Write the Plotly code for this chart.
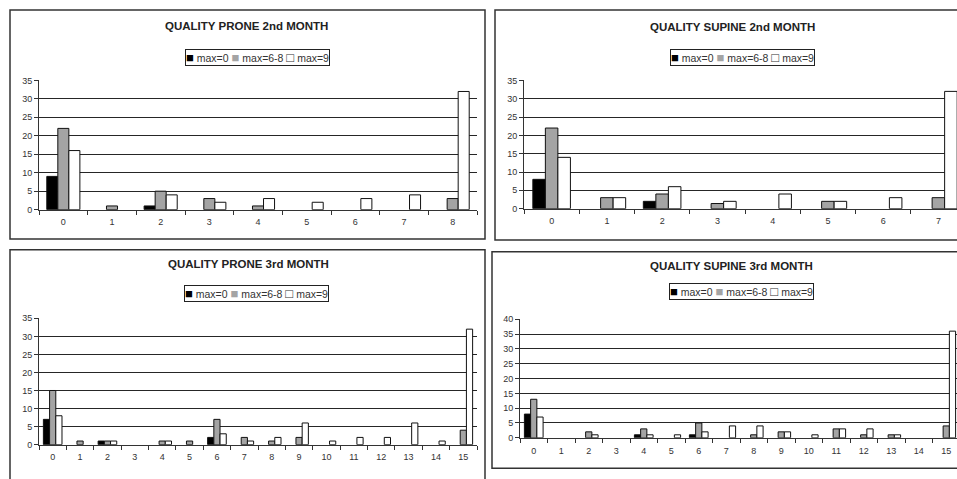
import plotly.graph_objects as go

# ---------------- data ----------------
series_names = ["max=0", "max=6-8", "max=9"]

cats_prone2 = [str(i) for i in range(9)]
prone2_max0 = [9, 0, 1, 0, 0, 0, 0, 0, 0]
prone2_max68 = [22, 1, 5, 3, 1, 0, 0, 0, 3]
prone2_max9 = [16, 0, 4, 2, 3, 2, 3, 4, 32]

cats_supine2 = [str(i) for i in range(8)]
supine2_max0 = [8, 0, 2, 0, 0, 0, 0, 0]
supine2_max68 = [22, 3, 4, 1.4, 0, 2, 0, 3]
supine2_max9 = [14, 3, 6, 2, 4, 2, 3, 32]

cats_prone3 = [str(i) for i in range(16)]
prone3_max0 = [7, 0, 1, 0, 0, 0, 2, 0, 0, 0, 0, 0, 0, 0, 0, 0]
prone3_max68 = [15, 1, 1, 0, 1, 1, 7, 2, 1, 2, 0, 0, 0, 0, 0, 4]
prone3_max9 = [8, 0, 1, 0, 1, 0, 3, 1, 2, 6, 1, 2, 2, 6, 1, 32]

cats_supine3 = [str(i) for i in range(16)]
supine3_max0 = [8, 0, 0, 0, 1, 0, 1, 0, 0, 0, 0, 0, 0, 0, 0, 0]
supine3_max68 = [13, 0, 2, 0, 3, 0, 5, 0, 1, 2, 0, 3, 1, 1, 0, 4]
supine3_max9 = [7, 0, 1, 0, 1, 1, 2, 4, 4, 2, 1, 3, 3, 1, 0, 36]

titles = ["QUALITY PRONE 2nd MONTH", "QUALITY SUPINE 2nd MONTH",
          "QUALITY PRONE 3rd MONTH", "QUALITY SUPINE 3rd MONTH"]
yticks_35 = [0, 5, 10, 15, 20, 25, 30, 35]
yticks_40 = [0, 5, 10, 15, 20, 25, 30, 35, 40]

colors = ["#000000", "#a4a4a4", "#ffffff"]

# ---------------- layout geometry (pixels) ----------------
W, H = 957, 479


def px(x):
    return x / W


def py(y):
    return 1 - y / H


panels = [
    dict(cats=cats_prone2, vals=[prone2_max0, prone2_max68, prone2_max9],
         xd=(39, 477), yd=(209, 77), yr=35, yt=yticks_35, xend=None,
         box=(10, 5, 485, 239), title=(247, 21), legend=(257, 53.5)),
    dict(cats=cats_supine2, vals=[supine2_max0, supine2_max68, supine2_max9],
         xd=(524, 957), yd=(208, 77), yr=35, yt=yticks_35, xend=966,
         box=(495, 5, 965, 240), title=(732, 22), legend=(742, 53.5)),
    dict(cats=cats_prone3, vals=[prone3_max0, prone3_max68, prone3_max9],
         xd=(39, 477), yd=(449, 320), yr=35, yt=yticks_35, xend=None,
         box=(10, 250, 485, 490), title=(248, 265), legend=(256.5, 295)),
    dict(cats=cats_supine3, vals=[supine3_max0, supine3_max68, supine3_max9],
         xd=(520, 957), yd=(442, 321), yr=40, yt=yticks_40, xend=960,
         box=(492, 252, 965, 473), title=(731, 267), legend=(741, 293)),
]

fig = go.Figure()
shapes = []
annotations = []
axis_font = dict(family="Liberation Sans, Arial, sans-serif", size=9, color="#333333")

for i, p in enumerate(panels):
    n = i + 1
    xa = "x" if n == 1 else f"x{n}"
    ya = "y" if n == 1 else f"y{n}"
    for s in range(3):
        # zero counts are not drawn (no outline on the baseline)
        yv = [v if v else None for v in p["vals"][s]]
        fig.add_trace(go.Bar(
            x=p["cats"], y=yv, name=series_names[s],
            marker=dict(color=colors[s], line=dict(color="#111111", width=1)),
            xaxis=xa, yaxis=ya, showlegend=False, hoverinfo="skip",
        ))
    ncat = len(p["cats"])
    x0, x1 = p["xd"]
    if p["xend"] is not None:
        # axis extends beyond the image edge: shorten the visible range
        full = p["xend"] - x0
        r1 = -0.5 + ncat * (x1 - x0) / full
    else:
        r1 = ncat - 0.5
    xkey = "xaxis" if n == 1 else f"xaxis{n}"
    ykey = "yaxis" if n == 1 else f"yaxis{n}"
    fig.update_layout({
        xkey: dict(domain=[px(x0), px(x1)], anchor=ya, type="category",
                   range=[-0.5, r1], showgrid=False, showline=True,
                   linecolor="#333333", linewidth=1, ticks="outside",
                   tickson="boundaries", ticklen=4, tickcolor="#333333",
                   tickfont=axis_font, zeroline=False, fixedrange=True,
                   ticklabelstandoff=4),
        ykey: dict(domain=[py(p["yd"][0]), py(p["yd"][1])], anchor=xa,
                   range=[0, p["yr"]], tickmode="array", tickvals=p["yt"],
                   showgrid=False, showline=True, linecolor="#333333",
                   linewidth=1, ticks="outside", ticklen=4,
                   tickcolor="#333333", tickfont=axis_font, zeroline=False,
                   minor=dict(tickmode="array", tickvals=p["yt"][1:-1],
                              showgrid=True, gridcolor="#262626",
                              gridwidth=1, ticks=""),
                   fixedrange=True),
    })
    bx0, by0, bx1, by1 = p["box"]
    shapes.append(dict(type="rect", xref="paper", yref="paper",
                       x0=px(bx0), x1=px(bx1), y0=py(by1), y1=py(by0),
                       line=dict(color="#333333", width=1.5), layer="below"))
    annotations.append(dict(
        text="<b>" + titles[i] + "</b>", xref="paper", yref="paper",
        x=px(p["title"][0]), y=py(p["title"][1]), xanchor="center",
        yanchor="middle", showarrow=False,
        font=dict(family="Liberation Sans, Arial, sans-serif", size=11.5,
                  color="#222222")))
    sq = "font-size:13px;"
    leg = (
        f"<span style='color:#000000;{sq}'>■</span> " + series_names[0] + " "
        f"<span style='color:#a4a4a4;{sq}'>■</span> " + series_names[1] + " "
        f"<span style='color:#333333;{sq}'>□</span> " + series_names[2]
    )
    annotations.append(dict(
        text=leg, xref="paper", yref="paper",
        x=px(p["legend"][0]), y=py(p["legend"][1]), xanchor="center",
        yanchor="middle", showarrow=False, bordercolor="#222222",
        borderwidth=1, borderpad=0, bgcolor="#ffffff",
        font=dict(family="Liberation Sans, Arial, sans-serif", size=10.5,
                  color="#333333")))

fig.update_layout(
    width=W, height=H, margin=dict(l=0, r=0, t=0, b=0),
    paper_bgcolor="white", plot_bgcolor="white",
    barmode="group", bargap=0.32, bargroupgap=0,
    shapes=shapes, annotations=annotations, showlegend=False,
    hovermode=False,
)

fig.write_html("out.html",
               config={"displayModeBar": False, "staticPlot": True},
               post_script="document.body.style.margin='0';"
                           "document.body.style.overflow='hidden';")
